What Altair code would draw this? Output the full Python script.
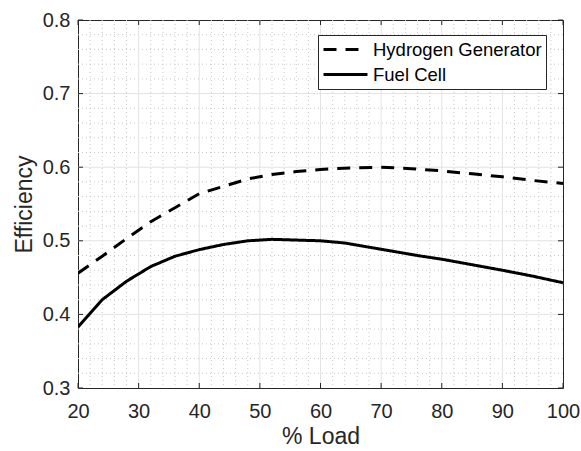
import altair as alt
import pandas as pd

# ---- data ----
load_hg = [20, 24, 28, 32, 36, 40, 44, 48, 52, 56, 60, 65, 70, 75, 80, 85, 90, 95, 100]
eff_hg = [0.456, 0.479, 0.503, 0.526, 0.545, 0.564, 0.574, 0.584, 0.590, 0.594, 0.597, 0.599, 0.600,
          0.598, 0.595, 0.591, 0.587, 0.582, 0.578]
load_fc = [20, 24, 28, 32, 36, 40, 44, 48, 52, 56, 60, 64, 70, 76, 80, 86, 90, 95, 100]
eff_fc = [0.383, 0.420, 0.445, 0.465, 0.479, 0.488, 0.495, 0.500, 0.502, 0.501, 0.500, 0.497, 0.4885,
          0.480, 0.475, 0.466, 0.460, 0.452, 0.443]
series = ["Hydrogen Generator", "Fuel Cell"]

x_major = [20, 30, 40, 50, 60, 70, 80, 90, 100]
y_major = [0.3, 0.4, 0.5, 0.6, 0.7, 0.8]
x_minor = [v for v in range(22, 100, 2) if v % 10 != 0]
y_minor = [round(0.3 + 0.02 * i, 2) for i in range(1, 25) if i % 5 != 0]

W, H = 485, 368
TXT = "#262626"

df = pd.concat([
    pd.DataFrame({"load": load_hg, "eff": eff_hg, "series": series[0]}),
    pd.DataFrame({"load": load_fc, "eff": eff_fc, "series": series[1]}),
])

xs = alt.Scale(domain=[20, 100], nice=False, zero=False)
ys = alt.Scale(domain=[0.3, 0.8], nice=False, zero=False)

xmin_df = pd.DataFrame({"v": x_minor})
ymin_df = pd.DataFrame({"v": y_minor})
xmaj_df = pd.DataFrame({"v": x_major[1:-1]})
ymaj_df = pd.DataFrame({"v": y_major[1:-1]})
xt_df = pd.DataFrame({"v": x_major})
yt_df = pd.DataFrame({"v": y_major})

minor_x = alt.Chart(xmin_df).mark_rule(color="#c8c8c8", strokeWidth=1, strokeDash=[1, 3]).encode(
    x=alt.X("v:Q", scale=xs))
minor_y = alt.Chart(ymin_df).mark_rule(color="#c8c8c8", strokeWidth=1, strokeDash=[1, 3]).encode(
    y=alt.Y("v:Q", scale=ys))
major_x = alt.Chart(xmaj_df).mark_rule(color="#e3e3e3", strokeWidth=1).encode(
    x=alt.X("v:Q", scale=xs))
major_y = alt.Chart(ymaj_df).mark_rule(color="#e3e3e3", strokeWidth=1).encode(
    y=alt.Y("v:Q", scale=ys))

tick_style = dict(color=TXT, strokeWidth=1)
tb = alt.Chart(xt_df).mark_rule(**tick_style).encode(x=alt.X("v:Q", scale=xs), y=alt.value(H), y2=alt.value(H - 5))
tt = alt.Chart(xt_df).mark_rule(**tick_style).encode(x=alt.X("v:Q", scale=xs), y=alt.value(0), y2=alt.value(5))
tl = alt.Chart(yt_df).mark_rule(**tick_style).encode(y=alt.Y("v:Q", scale=ys), x=alt.value(0), x2=alt.value(5))
tr = alt.Chart(yt_df).mark_rule(**tick_style).encode(y=alt.Y("v:Q", scale=ys), x=alt.value(W), x2=alt.value(W - 5))

lines = alt.Chart(df).mark_line(color="black", strokeWidth=3, clip=True).encode(
    x=alt.X("load:Q", scale=xs, title="% Load",
            axis=alt.Axis(values=x_major, ticks=False, grid=False, labelPadding=13,
                          labelFlush=False, labelOverlap=False,
                          titlePadding=4, domain=False)),
    y=alt.Y("eff:Q", scale=ys, title="Efficiency",
            axis=alt.Axis(values=y_major, format=".1f", ticks=False, grid=False, labelPadding=8,
                          labelFlush=False, labelOverlap=False,
                          titlePadding=6, domain=False)),
    strokeDash=alt.StrokeDash("series:N",
                              scale=alt.Scale(domain=series, range=[[13, 9], [1, 0]]),
                              legend=alt.Legend(orient="none", legendX=240, legendY=15, title=None,
                                                symbolType="stroke", symbolSize=1936,
                                                symbolStrokeWidth=3, symbolStrokeColor="black",
                                                clipHeight=21, rowPadding=4, padding=4,
                                                labelOffset=4, labelFontSize=18.5, labelLimit=400,
                                                labelColor="black", labelFont="Liberation Sans",
                                                strokeColor="#262626", fillColor="white")),
    detail="series:N",
)

chart = alt.layer(minor_x, minor_y, major_x, major_y, lines, tb, tt, tl, tr).properties(
    width=W, height=H,
    padding={"left": 78, "top": 20, "right": 18, "bottom": 63},
    autosize=alt.AutoSizeParams(type="none"),
    background="white",
).configure_view(
    stroke=TXT, strokeWidth=1
).configure_axis(
    labelFont="Liberation Sans", titleFont="Liberation Sans",
    labelFontSize=20, titleFontSize=23, labelColor=TXT, titleColor=TXT,
    titleFontWeight="normal",
)

chart.save("out.html", embed_options={"renderer": "svg", "actions": False})
